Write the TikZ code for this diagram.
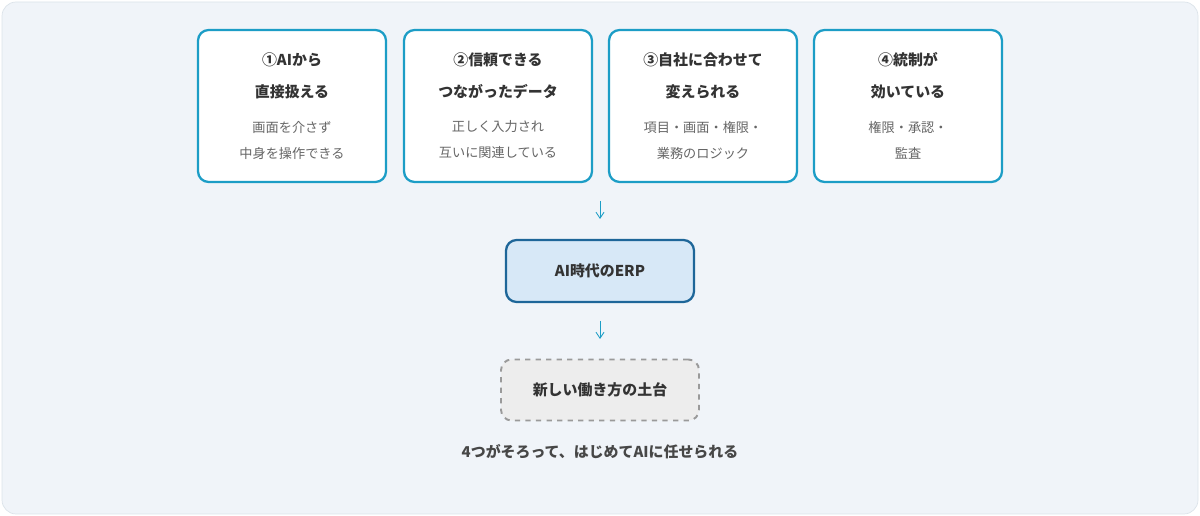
\documentclass[tikz,border=0pt]{standalone}
\usepackage{fontspec}
\setmainfont{Noto Sans CJK JP}
\usepackage{xcolor}
\usetikzlibrary{arrows.meta, positioning, calc}
\definecolor{bgpanel}{HTML}{F0F4F9}
\definecolor{bgline}{HTML}{DCE3EA}
\definecolor{cyanline}{HTML}{1C9DC6}
\definecolor{erpline}{HTML}{1E6699}
\definecolor{erpfill}{HTML}{D7E8F7}
\definecolor{basefill}{HTML}{EDEDED}
\definecolor{baseline}{HTML}{9A9A9A}
\definecolor{titletxt}{HTML}{333333}
\definecolor{subtxt}{HTML}{666666}

\begin{document}
\begin{tikzpicture}[
                x=0.02cm, y=-0.02cm,
                pillar/.style={rectangle, rounded corners=6pt, draw=cyanline, line width=1.3pt, fill=white, minimum width=3.76cm, minimum height=3.04cm},
                erp/.style={rectangle, rounded corners=6pt, draw=erpline, line width=1.3pt, fill=erpfill, minimum width=3.76cm, minimum height=1.24cm, font=\bfseries\fontsize{8.5}{10}\selectfont, text=titletxt},
                base/.style={rectangle, rounded corners=6pt, draw=baseline, dashed, line width=1.1pt, fill=basefill, minimum width=3.96cm, minimum height=1.22cm, font=\bfseries\fontsize{8.5}{10}\selectfont, text=titletxt},
                ttl/.style={font=\bfseries\fontsize{8.5}{10}\selectfont, text=titletxt},
                sub/.style={font=\fontsize{7.5}{9}\selectfont, text=subtxt},
                flow/.style={-{Straight Barb[length=1.2mm, width=1.6mm]}, cyanline, line width=0.5pt}
            ]
                % panel
                \draw[bgline, fill=bgpanel, rounded corners=8pt] (2,2) rectangle (1198,514);
                \useasboundingbox (0,0) rectangle (1200,516);

                % four pillars
                \foreach \cx/\nm/\ta/\tb/\sa/\sb in {
                    292/p1/{①AIから}/{直接扱える}/{画面を介さず}/{中身を操作できる},
                    498/p2/{②信頼できる}/{つながったデータ}/{正しく入力され}/{互いに関連している},
                    703/p3/{③自社に合わせて}/{変えられる}/{項目・画面・権限・}/{業務のロジック},
                    908/p4/{④統制が}/{効いている}/{権限・承認・}/{監査}} {
                    \node[pillar] (\nm) at (\cx,106) {};
                    \node[ttl] at (\cx,60) {\ta};
                    \node[ttl] at (\cx,92) {\tb};
                    \node[sub] at (\cx,127) {\sa};
                    \node[sub] at (\cx,153) {\sb};
                }

                % ERP and base
                \node[erp] (ERP) at (600,271) {AI時代のERP};
                \node[base] (BASE) at (600,390) {新しい働き方の土台};

                % arrows
                \coordinate (a1s) at (600,201);
                \coordinate (a1e) at (600,219);
                \coordinate (a2s) at (600,321);
                \coordinate (a2e) at (600,339);
                \draw[flow] (a1s) -- (a1e);
                \draw[flow] (a2s) -- (a2e);

                % caption
                \node[ttl, text=titletxt!90] (CAP) at (600,452) {4つがそろって、はじめてAIに任せられる};
            \end{tikzpicture}
\end{document}
